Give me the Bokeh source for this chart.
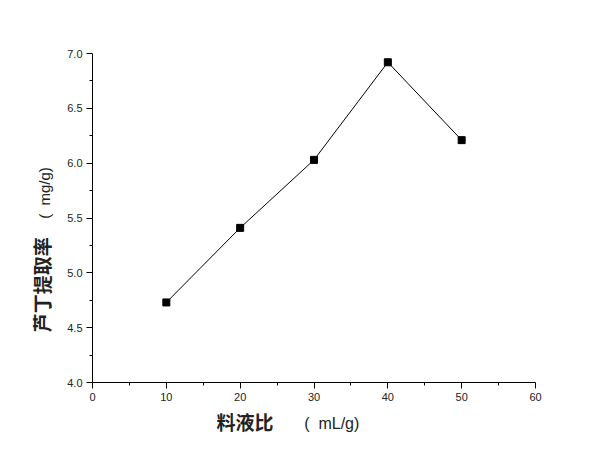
from bokeh.plotting import figure
from bokeh.models import FixedTicker, Range1d, LinearAxis, CustomJSTickFormatter
from bokeh.embed import file_html
from bokeh.resources import INLINE

ratio = [10, 20, 30, 40, 50]
rutin_yield = [4.73, 5.41, 6.03, 6.92, 6.21]

x_major = [0, 10, 20, 30, 40, 50, 60]
x_minor = [5, 15, 25, 35, 45, 55]
y_major = [4.0, 4.5, 5.0, 5.5, 6.0, 6.5, 7.0]
y_minor = [4.25, 4.75, 5.25, 5.75, 6.25, 6.75]

NB = "\u00a0"

p = figure(width=581, height=449, output_backend="svg", toolbar_location=None,
           x_range=Range1d(0, 60), y_range=Range1d(4.0, 7.0),
           frame_width=443, frame_height=329,
           min_border_left=92, min_border_top=53, min_border_right=46, min_border_bottom=67)
p.outline_line_color = None
p.xgrid.grid_line_color = None
p.ygrid.grid_line_color = None

p.xaxis.ticker = FixedTicker(ticks=x_major, minor_ticks=x_minor)
p.yaxis.ticker = FixedTicker(ticks=y_major, minor_ticks=y_minor)
p.yaxis.formatter = CustomJSTickFormatter(code="return tick.toFixed(1);")

for ax in (p.xaxis[0], p.yaxis[0]):
    ax.axis_line_color = "black"
    ax.axis_line_width = 1
    ax.major_tick_line_color = "black"
    ax.minor_tick_line_color = "black"
    ax.major_tick_in = 0
    ax.major_tick_out = 6
    ax.minor_tick_in = 0
    ax.minor_tick_out = 3
    ax.major_label_text_font = "Liberation Sans"
    ax.major_label_text_font_size = "11px"
    ax.major_label_text_color = "#222222"
    ax.major_label_standoff = 4
    ax.axis_label_text_font = "Noto Sans CJK SC"
    ax.axis_label_text_font_style = "bold"
    ax.axis_label_text_font_size = "19px"
    ax.axis_label_text_color = "#222222"

p.yaxis.axis_label = "芦丁提取率" + NB * 31
p.xaxis.axis_label = "料液比" + NB * 32
p.yaxis.axis_label_standoff = 9
p.xaxis.axis_label_standoff = 4


def unit_axis(label, standoff, size):
    ax = LinearAxis(ticker=FixedTicker(ticks=[], minor_ticks=[]), axis_label=label)
    ax.axis_line_color = None
    ax.major_tick_line_color = None
    ax.minor_tick_line_color = None
    ax.major_label_text_font_size = "0px"
    ax.axis_label_standoff = standoff
    ax.axis_label_text_font = "Liberation Sans"
    ax.axis_label_text_font_style = "normal"
    ax.axis_label_text_font_size = size
    ax.axis_label_text_color = "#222222"
    return ax


p.add_layout(unit_axis(NB * 12 + "(" + NB * 2 + "mg/g)", -27, "15px"), "left")
p.add_layout(unit_axis(NB * 8 + "(" + NB * 2 + "mL/g)", -23, "16px"), "below")

p.line(ratio, rutin_yield, line_color="black", line_width=1)
p.scatter(ratio, rutin_yield, marker="square", size=7, fill_color="black", line_color="black")

open("out.html", "w").write(file_html(p, INLINE))
